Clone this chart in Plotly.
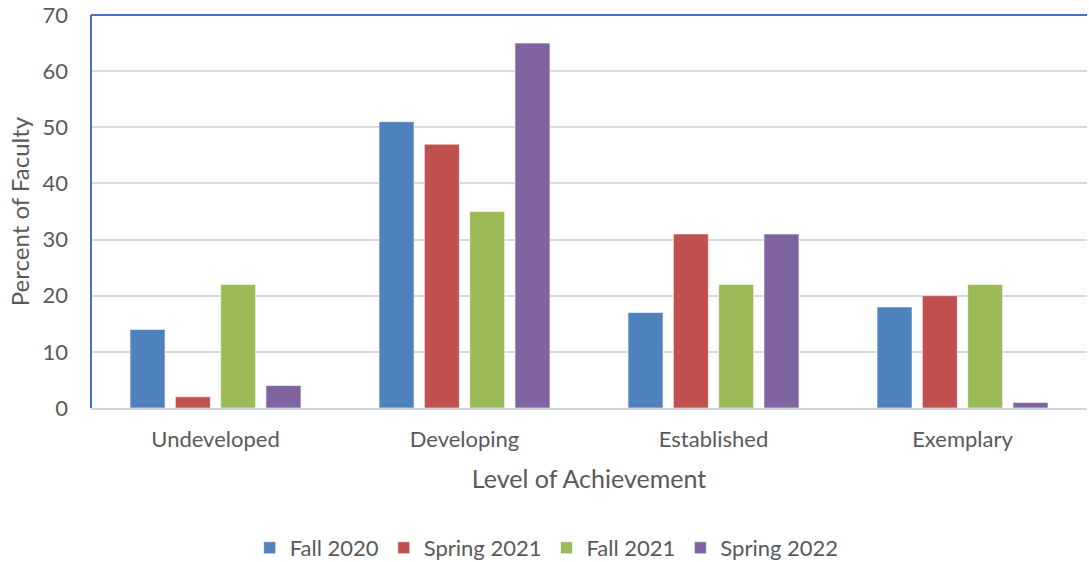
import plotly.graph_objects as go

categories = ["Undeveloped", "Developing", "Established", "Exemplary"]
fall_2020 = [14, 51, 17, 18]
spring_2021 = [2, 47, 31, 20]
fall_2021 = [22, 35, 22, 22]
spring_2022 = [4, 65, 31, 1]

series = [
    ("Fall 2020", fall_2020, "#4F81BD"),
    ("Spring 2021", spring_2021, "#C0504D"),
    ("Fall 2021", fall_2021, "#9BBB59"),
    ("Spring 2022", spring_2022, "#8064A2"),
]

font_family = "Lato, 'Open Sans', sans-serif"
txt = "#595959"

fig = go.Figure()
for name, vals, col in series:
    fig.add_trace(go.Bar(
        x=categories, y=vals, name=name,
        marker=dict(color=col, line=dict(color="rgba(255,255,255,0.6)", width=1)),
    ))

fig.update_layout(
    width=1089, height=562,
    margin=dict(l=91, r=2, t=15, b=154, autoexpand=False),
    paper_bgcolor="white", plot_bgcolor="white",
    barmode="group", bargap=0.272, bargroupgap=0.228,
    font=dict(family=font_family, color=txt, size=22),
    showlegend=True,
    legend=dict(orientation="h", xref="container", yref="container",
                x=0.502, xanchor="center", y=0.025, yanchor="middle",
                font=dict(size=22, color=txt), itemwidth=30, tracegroupgap=0,
                traceorder="normal"),
    xaxis=dict(
        automargin=False,
        showline=True, linecolor="#D0D3DB", linewidth=2,
        showgrid=False, ticks="", ticklabelstandoff=11,
        tickfont=dict(size=22, color=txt),
        title=dict(text="Level of Achievement", font=dict(size=25, color=txt), standoff=19),
    ),
    yaxis=dict(
        automargin=False, ticklabeloverflow="allow",
        range=[0, 70], dtick=10, showgrid=True, gridcolor="#D9D9D9", gridwidth=1.5,
        zeroline=False, showline=False, ticks="", ticklabelstandoff=22,
        tickfont=dict(size=22, color=txt),
        title=dict(text="Percent of Faculty", font=dict(size=24, color=txt), standoff=6),
    ),
    shapes=[
        dict(type="line", xref="paper", yref="paper", x0=0, x1=1, y0=1, y1=1,
             line=dict(color="#4472C4", width=2)),
        dict(type="line", xref="paper", yref="paper", x0=0, x1=0, y0=0, y1=1,
             line=dict(color="#4472C4", width=2)),
    ],
)

fig.write_html(
    "out.html",
    config={"displayModeBar": False},
    post_script="document.body.style.margin='0';document.body.style.overflow='hidden';",
)
